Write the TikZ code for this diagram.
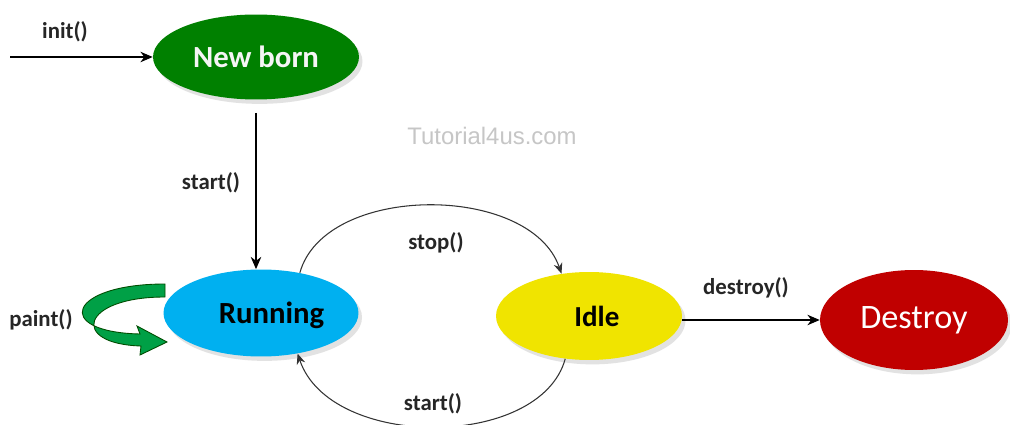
\documentclass[tikz,border=0pt]{standalone}
\usepackage{fontspec}
\setmainfont{Carlito}
\newfontfamily\wmfont{Liberation Sans}
\usetikzlibrary{shapes.geometric,shadows,arrows.meta}
\definecolor{nbgreen}{RGB}{0,128,0}
\definecolor{runblue}{RGB}{0,176,240}
\definecolor{idleyellow}{RGB}{240,228,0}
\definecolor{destred}{RGB}{192,0,0}
\definecolor{paintgreen}{RGB}{0,160,70}
\tikzset{
  state/.style={ellipse, inner sep=0pt, font=\bfseries,
    drop shadow={shadow xshift=2pt, shadow yshift=-2.5pt, fill=gray!45}},
  lbl/.style={font=\bfseries\fontsize{13}{15}\selectfont, text=black!85},
  conn/.style={draw=black, line width=0.6pt, -{Stealth[length=7pt,width=6pt]}},
  arcconn/.style={draw=black!80, line width=0.6pt, -{Stealth[length=6pt,width=5pt]}}
}
\begin{document}
\begin{tikzpicture}[x=0.02cm,y=-0.02cm]
\useasboundingbox[fill=white] (0,0) rectangle (1010,425);
% states
\node[state, fill=nbgreen, minimum width=4.12cm, minimum height=1.7cm,
  text=gray!8, font=\bfseries\fontsize{17.5}{20}\selectfont] (nb) at (256,57) {New born};
\node[state, fill=runblue, minimum width=3.9cm, minimum height=1.74cm,
  text=black, font=\bfseries\fontsize{17.5}{20}\selectfont, text depth=0pt,
  execute at begin node={\hspace*{12pt}}] (run) at (261,313) {Running};
\node[state, fill=idleyellow, minimum width=3.72cm, minimum height=1.76cm,
  text=black, font=\bfseries\fontsize{16.5}{20}\selectfont,
  execute at begin node={\hspace*{9pt}}] (idle) at (589,316) {Idle};
\node[state, fill=destred, minimum width=3.76cm, minimum height=2.0cm,
  text=white, font=\fontsize{19.5}{22}\selectfont] (dest) at (914,320) {Destroy};
% watermark
\node[font=\wmfont\fontsize{13.6}{16}\selectfont, text=gray!45] (wm) at (492,136) {Tutorial4us.com};
% init
\coordinate (initstart) at (10,57);
\draw[conn] (initstart) -- (nb.west);
\node[lbl] (initl) at (65,32) {init()};
% start (vertical)
\coordinate (nbs) at (256,113);
\draw[conn] (nbs) -- (run.north -| nbs);
\node[lbl] (startl1) at (211,183) {start()};
% stop arc
\draw[arcconn] (run.46) .. controls (325,183) and (530,183) .. (idle.123);
\node[lbl] (stopl) at (436,243) {stop()};
% start arc (bottom)
\draw[arcconn] (idle.241) .. controls (540,450) and (330,450) .. (run.-48);
\node[lbl] (startl2) at (433,404) {start()};
% destroy
\draw[conn] (dest.west -| idle.east) -- (dest.west);
\node[lbl] (destl) at (746,288) {destroy()};
% paint
\draw[fill=paintgreen, draw=black!70!green, line width=0.5pt]
  (165,284) .. controls (68,284) and (52,332) .. (140,334)
  -- (137,326) -- (167,342) -- (140,355) -- (141,346)
  .. controls (70,344) and (80,297) .. (165,297) -- cycle;
\node[lbl] (paintl) at (41,320) {paint()};
\end{tikzpicture}
\end{document}
